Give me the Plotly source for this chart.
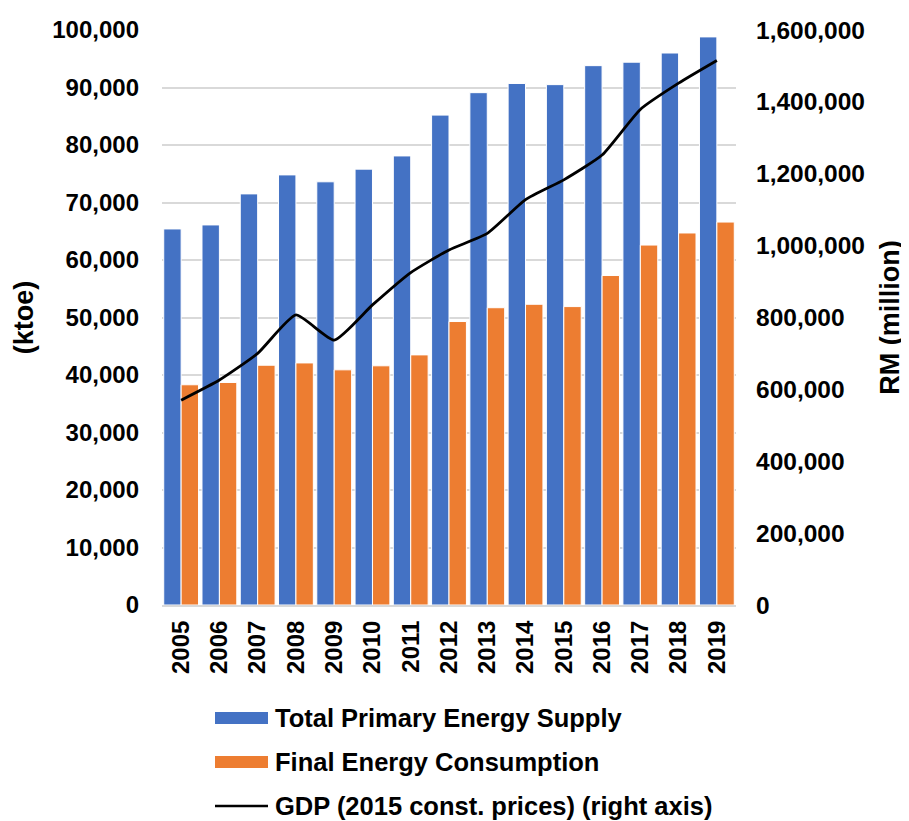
import plotly.graph_objects as go

years = ["2005", "2006", "2007", "2008", "2009", "2010", "2011", "2012",
         "2013", "2014", "2015", "2016", "2017", "2018", "2019"]
tpes = [65400, 66100, 71500, 74800, 73600, 75800, 78100, 85200,
        89100, 90700, 90500, 93800, 94400, 96000, 98800]
fec = [38300, 38700, 41700, 42100, 40900, 41600, 43500, 49300,
       51700, 52300, 51900, 57300, 62600, 64700, 66600]
gdp = [570000, 626000, 700000, 807000, 737000, 835000, 925000, 988000,
       1034000, 1128000, 1183000, 1252000, 1379000, 1452000, 1515000]
legend_labels = ["Total Primary Energy Supply", "Final Energy Consumption",
                 "GDP (2015 const. prices) (right axis)"]

FONT = "Liberation Sans, Arial, sans-serif"
BLUE = "#4472C4"
ORANGE = "#ED7D31"

# page body has an 8px margin: figure is sized so the page fits 909x821
W, H = 901, 813
ML, MR, MT, MB = 154, 173, 22, 216
PW = W - ML - MR
PH = H - MT - MB


def px_x(p):  # page pixel -> paper x
    return (p - 8 - ML) / PW


def px_y(p):  # page pixel -> paper y
    return (H - MB - (p - 8)) / PH


fig = go.Figure()
fig.add_trace(go.Bar(x=years, y=tpes, name=legend_labels[0],
                     marker=dict(color=BLUE, line=dict(color="white", width=1))))
fig.add_trace(go.Bar(x=years, y=fec, name=legend_labels[1],
                     marker=dict(color=ORANGE, line=dict(color="white", width=1))))
fig.add_trace(go.Scatter(x=years, y=gdp, name=legend_labels[2],
                         yaxis="y2", mode="lines",
                         line=dict(color="black", width=2.8, shape="spline", smoothing=0.5)))

# legend drawn as swatches + text (Excel-style wide swatches)
shapes = []
annotations = []
rows_y = [718, 762, 806]
for i, (lab, ry) in enumerate(zip(legend_labels, rows_y)):
    if i < 2:
        shapes.append(dict(type="rect", xref="paper", yref="paper",
                           x0=px_x(215), x1=px_x(268), y0=px_y(ry + 6), y1=px_y(ry - 6),
                           fillcolor=[BLUE, ORANGE][i], line=dict(width=0)))
    else:
        shapes.append(dict(type="line", xref="paper", yref="paper",
                           x0=px_x(215), x1=px_x(268), y0=px_y(ry), y1=px_y(ry),
                           line=dict(color="black", width=2.5)))
    annotations.append(dict(text=lab, xref="paper", yref="paper",
                            x=px_x(273), y=px_y(ry), xanchor="left", yanchor="middle",
                            showarrow=False,
                            font=dict(family=FONT, size=25.5, color="black", weight="bold")))

fig.update_layout(
    width=W, height=H,
    margin=dict(l=ML, r=MR, t=MT, b=MB, autoexpand=False),
    paper_bgcolor="white", plot_bgcolor="white",
    barmode="group", bargap=0.09, bargroupgap=0,
    font=dict(family=FONT, size=24, color="black", weight="bold"),
    xaxis=dict(type="category", tickangle=-90, showgrid=False,
               showline=True, linecolor="#d9d9d9", linewidth=2,
               ticks="", ticklabelstandoff=4,
               tickfont=dict(family=FONT, size=24, weight="bold")),
    yaxis=dict(range=[0, 100000], dtick=10000, tickformat=",",
               showgrid=True, gridcolor="#d9d9d9", gridwidth=2,
               zeroline=False, showline=False, ticks="",
               ticklabelstandoff=22,
               tickfont=dict(family=FONT, size=24, weight="bold"),
               title=dict(text="(ktoe)", standoff=10,
                          font=dict(family=FONT, size=27, weight="bold"))),
    yaxis2=dict(range=[0, 1600000], dtick=200000, tickformat=",",
                overlaying="y", side="right", showgrid=False,
                zeroline=False, showline=False, ticks="",
                ticklabelstandoff=19,
                tickfont=dict(family=FONT, size=24.5, weight="bold"),
                title=dict(text="RM (million)", standoff=16,
                           font=dict(family=FONT, size=27, weight="bold"))),
    showlegend=False,
    shapes=shapes,
    annotations=annotations,
)

fig.write_html("out.html")
